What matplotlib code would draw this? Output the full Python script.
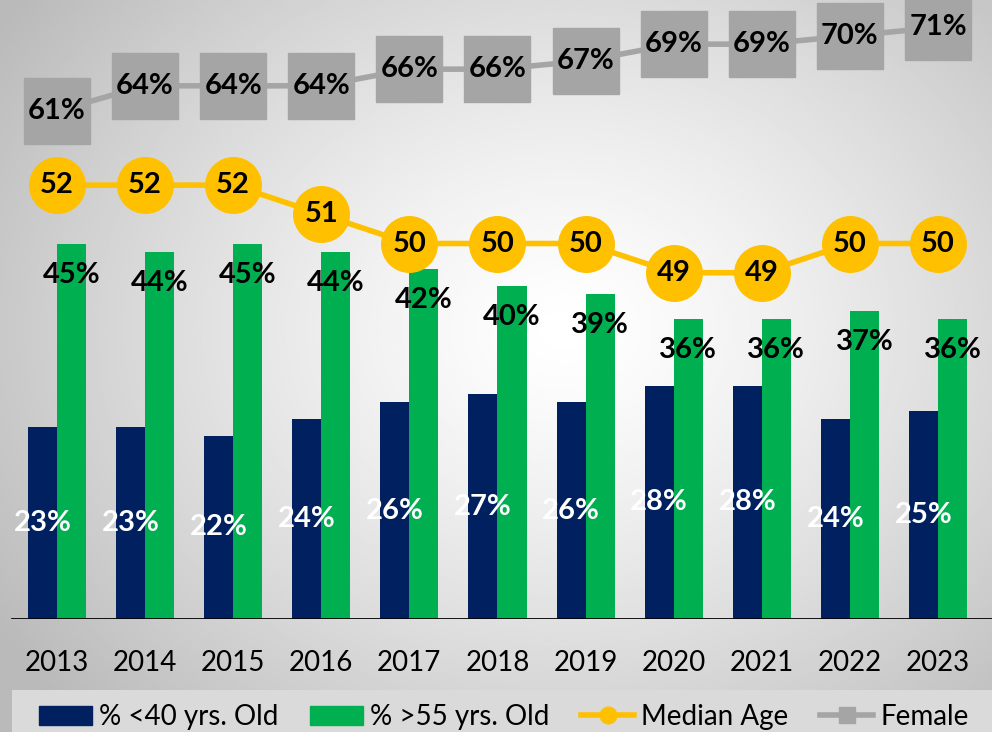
import numpy as np
import matplotlib.pyplot as plt
from matplotlib.lines import Line2D
from matplotlib.patches import Patch, Rectangle

plt.rcParams['font.family'] = ['Lato', 'DejaVu Sans']

# data
years = ["2013", "2014", "2015", "2016", "2017", "2018", "2019", "2020", "2021", "2022", "2023"]
under_40 = [23, 23, 22, 24, 26, 27, 26, 28, 28, 24, 25]
over_55 = [45, 44, 45, 44, 42, 40, 39, 36, 36, 37, 36]
median_age = [52, 52, 52, 51, 50, 50, 50, 49, 49, 50, 50]
female = [61, 64, 64, 64, 66, 66, 67, 69, 69, 70, 71]

navy = "#002060"
green = "#00B050"
gold = "#FFC000"
grey = "#A5A5A5"

fig = plt.figure(figsize=(9.92, 7.32), dpi=100)

# radial gradient background
bg = fig.add_axes([0, 0, 1, 1], zorder=-10)
gx, gy = np.meshgrid(np.linspace(0, 1, 400), np.linspace(0, 1, 300))
dist = np.sqrt(((gx - 0.57) * 1.1) ** 2 + (gy - 0.45) ** 2)
shade = 1 - 0.27 * np.clip(dist / 0.75, 0, 1) ** 1.3
bg.imshow(shade, cmap="gray", vmin=0, vmax=1, aspect="auto", extent=[0, 1, 1, 0])
bg.axis("off")

ax = fig.add_axes([0, 0.1544, 1, 0.8456])
ax.set_facecolor("none")
x = np.arange(len(years))
w = 0.33

ax.bar(x - w / 2, under_40, w, color=navy, zorder=2)
ax.bar(x + w / 2, over_55, w, color=green, zorder=2)

# female on the same axis as the bars
ax.plot(x, female, color=grey, lw=4, marker="s", ms=48, mec=grey, mfc=grey, clip_on=False, zorder=3)

lbl = dict(fontsize=21, fontweight="bold", ha="center", va="center", zorder=5)
for i in range(len(years)):
    ax.text(x[i] - w / 2, under_40[i] / 2, f"{under_40[i]}%", color="white", **lbl)
    ax.text(x[i] + w / 2, over_55[i] - 3.7, f"{over_55[i]}%", color="black", **lbl)
    ax.text(x[i], female[i], f"{female[i]}%", color="black", clip_on=False, **lbl)

ax.set_xlim(-0.647, 10.613)
ax.set_ylim(0, 74.3)
ax.set_yticks([])
ax.set_xticks(x)
ax.set_xticklabels(years, fontsize=20)
ax.tick_params(axis="x", length=0, pad=22)
for s in ax.spines.values():
    s.set_visible(False)
ax.axhline(0, xmin=0.012, xmax=1, color="black", lw=2, zorder=4)

# median age on a second axis
ax2 = ax.twinx()
ax2.plot(x, median_age, color=gold, lw=4, marker="o", ms=40, mec=gold, mfc=gold, clip_on=False, zorder=3)
for i in range(len(years)):
    ax2.text(x[i], median_age[i], str(median_age[i]), color="black", **lbl)
ax2.set_ylim(37.14, 58.34)
ax2.set_yticks([])
for s in ax2.spines.values():
    s.set_visible(False)

# legend
fig.patches.append(Rectangle((12 / 992, 0), 1, 42 / 732, transform=fig.transFigure,
                             facecolor="#DADADA", edgecolor="none", zorder=0))
handles = [
    Patch(color=navy, label="% <40 yrs. Old"),
    Patch(color=green, label="% >55 yrs. Old"),
    Line2D([], [], color=gold, lw=4, marker="o", ms=12, label="Median Age"),
    Line2D([], [], color=grey, lw=4, marker="s", ms=12, label="Female"),
]
fig.legend(handles=handles, loc="center", bbox_to_anchor=(0.508, 15 / 732), ncol=4,
           frameon=False, fontsize=20, handlelength=1.9, handletextpad=0.25,
           columnspacing=1.15, borderpad=0)

fig.savefig("out.png", dpi=100)
